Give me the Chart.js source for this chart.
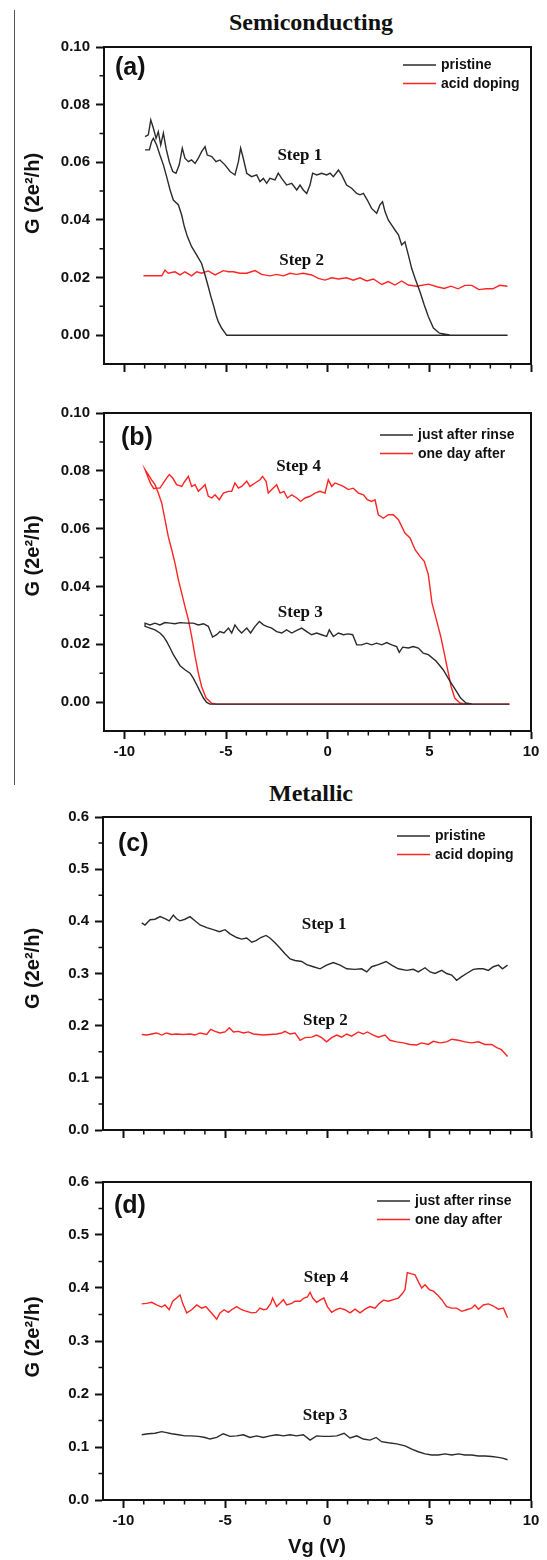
<!DOCTYPE html>
<html>
<head>
<meta charset="utf-8">
<script src="https://cdn.jsdelivr.net/npm/chart.js@4.4.0/dist/chart.umd.min.js"></script>
<style>
  body { margin: 0; background: #fff; }
  #page { position: relative; width: 547px; height: 1560px; overflow: hidden; }
  canvas { position: absolute; left: 0; }
  .title { position: absolute; font: bold 24px 'Liberation Serif', 'Times New Roman', serif; color: #111;
           transform: translate(-50%, -50%); white-space: nowrap; }
  #sep { position: absolute; left: 14px; top: 10px; height: 775px; border-left: 1.5px solid #555; }
</style>
</head>
<body>
<div id="page">
  <div id="sep"></div>
  <div class="title" style="left:311px;top:22px">Semiconducting</div>
  <div class="title" style="left:311px;top:793px">Metallic</div>
  <canvas id="chartA" width="547" height="350" style="top:30px"></canvas>
  <canvas id="chartB" width="547" height="380" style="top:395px"></canvas>
  <canvas id="chartC" width="547" height="345" style="top:800px"></canvas>
  <canvas id="chartD" width="547" height="395" style="top:1165px"></canvas>
</div>
<script>
// axis ticks
const xMajor = [-10, -5, 0, 5, 10];
const xMinor = [-9, -8, -7, -6, -4, -3, -2, -1, 1, 2, 3, 4, 6, 7, 8, 9];
const ySemiMajor = [0, 0.02, 0.04, 0.06, 0.08, 0.10];
const ySemiMinor = [0.01, 0.03, 0.05, 0.07, 0.09];
const yMetMajor = [0, 0.1, 0.2, 0.3, 0.4, 0.5, 0.6];
const yMetMinor = [0.05, 0.15, 0.25, 0.35, 0.45, 0.55];
const yTitle = 'G (2e\u00B2/h)';

// (a) semiconducting, pristine (loop) and acid doping  [Vg, G]
const aPristine = [[-8.98,0.0689],[-8.82,0.0695],[-8.70,0.0747],[-8.57,0.0718],[-8.44,0.0683],[-8.33,0.0706],[-8.21,0.0660],
  [-8.08,0.0701],[-7.95,0.0649],[-7.79,0.0602],[-7.62,0.0568],[-7.46,0.0562],[-7.30,0.0591],[-7.15,0.0649],[-7.02,0.0614],
  [-6.85,0.0602],[-6.69,0.0608],[-6.52,0.0596],[-6.36,0.0614],[-6.20,0.0637],[-6.03,0.0654],[-5.92,0.0625],[-5.70,0.0620],
  [-5.49,0.0602],[-5.30,0.0608],[-5.05,0.0591],[-4.80,0.0568],[-4.56,0.0556],[-4.39,0.0602],[-4.28,0.0649],[-4.15,0.0614],
  [-3.98,0.0562],[-3.74,0.0550],[-3.49,0.0556],[-3.33,0.0533],[-3.16,0.0544],[-3.00,0.0527],[-2.84,0.0544],[-2.59,0.0539],
  [-2.43,0.0562],[-2.26,0.0544],[-2.02,0.0521],[-1.77,0.0527],[-1.52,0.0504],[-1.36,0.0521],[-1.20,0.0504],[-1.03,0.0492],
  [-0.87,0.0521],[-0.74,0.0562],[-0.54,0.0556],[-0.30,0.0562],[-0.05,0.0556],[0.12,0.0562],[0.28,0.0550],[0.53,0.0573],
  [0.69,0.0556],[0.93,0.0521],[1.18,0.0510],[1.43,0.0492],[1.59,0.0487],[1.76,0.0492],[1.95,0.0469],[2.16,0.0440],
  [2.41,0.0423],[2.57,0.0452],[2.70,0.0463],[2.82,0.0429],[2.98,0.0400],[3.15,0.0382],[3.31,0.0365],[3.48,0.0348],
  [3.64,0.0313],[3.80,0.0324],[3.97,0.0278],[4.13,0.0232],[4.30,0.0197],[4.54,0.0151],[4.75,0.0105],[4.95,0.0065],
  [5.20,0.0025],[5.50,0.0007],[6.00,0.0001],[8.85,0],
  [-4.97,0],[-5.05,0.0008],[-5.21,0.0024],[-5.38,0.0047],[-5.49,0.0070],[-5.62,0.0105],[-5.74,0.0133],[-5.87,0.0168],
  [-6.03,0.0209],[-6.20,0.0249],[-6.44,0.0278],[-6.69,0.0307],[-6.90,0.0342],[-7.05,0.0377],[-7.18,0.0417],[-7.34,0.0452],
  [-7.59,0.0469],[-7.75,0.0504],[-7.92,0.0550],[-8.08,0.0591],[-8.25,0.0625],[-8.41,0.0660],[-8.57,0.0683],[-8.66,0.0672],
  [-8.77,0.0643],[-8.98,0.0643]];
const aAcid = [[-9.06,0.0206],[-8.16,0.0206],[-8.00,0.0226],[-7.84,0.0215],[-7.51,0.0220],[-7.26,0.0209],[-7.02,0.0220],
  [-6.69,0.0206],[-6.44,0.0220],[-6.20,0.0215],[-5.87,0.0223],[-5.54,0.0209],[-5.13,0.0224],[-4.88,0.0220],[-4.64,0.0220],
  [-4.31,0.0215],[-3.98,0.0215],[-3.57,0.0224],[-3.25,0.0211],[-2.84,0.0206],[-2.51,0.0211],[-2.18,0.0206],[-1.85,0.0215],
  [-1.52,0.0211],[-1.20,0.0215],[-0.79,0.0209],[-0.46,0.0197],[-0.13,0.0191],[0.20,0.0199],[0.53,0.0195],[0.93,0.0199],
  [1.26,0.0191],[1.59,0.0199],[1.92,0.0188],[2.25,0.0195],[2.66,0.0176],[2.98,0.0186],[3.31,0.0174],[3.64,0.0188],
  [3.97,0.0174],[4.38,0.0170],[4.96,0.0177],[5.38,0.0168],[5.73,0.0162],[6.07,0.0170],[6.41,0.0161],[6.75,0.0173],
  [7.09,0.0173],[7.44,0.0158],[7.78,0.0161],[8.12,0.0161],[8.46,0.0173],[8.84,0.0170]];

// (b) semiconducting, just after rinse and one day after (loops)
const bRinse = [[8.94,-0.0007],[-5.79,-0.0007],[-5.95,-0.0001],[-6.11,0.0014],[-6.28,0.0037],[-6.44,0.0060],[-6.61,0.0083],
  [-6.77,0.0100],[-7.02,0.0112],[-7.26,0.0126],[-7.43,0.0146],[-7.59,0.0164],[-7.75,0.0187],[-7.92,0.0210],[-8.08,0.0227],
  [-8.25,0.0239],[-8.49,0.0250],[-8.74,0.0256],[-8.98,0.0262],[-8.98,0.0273],[-8.74,0.0267],[-8.49,0.0273],[-8.25,0.0267],
  [-8.00,0.0275],[-7.75,0.0273],[-7.51,0.0271],[-7.26,0.0275],[-6.93,0.0273],[-6.61,0.0273],[-6.36,0.0267],[-6.11,0.0271],
  [-5.87,0.0262],[-5.66,0.0225],[-5.46,0.0233],[-5.30,0.0244],[-5.10,0.0239],[-4.88,0.0256],[-4.72,0.0239],[-4.56,0.0267],
  [-4.39,0.0250],[-4.23,0.0239],[-3.98,0.0256],[-3.79,0.0239],[-3.57,0.0262],[-3.36,0.0279],[-3.16,0.0267],[-3.00,0.0262],
  [-2.75,0.0256],[-2.51,0.0244],[-2.26,0.0239],[-2.02,0.0250],[-1.77,0.0239],[-1.52,0.0248],[-1.28,0.0256],[-1.03,0.0244],
  [-0.79,0.0233],[-0.54,0.0239],[-0.30,0.0233],[-0.05,0.0227],[0.08,0.0250],[0.28,0.0227],[0.53,0.0239],[0.77,0.0233],
  [1.02,0.0236],[1.23,0.0233],[1.43,0.0198],[1.67,0.0198],[1.92,0.0204],[2.16,0.0198],[2.41,0.0204],[2.66,0.0198],
  [2.90,0.0206],[3.15,0.0198],[3.39,0.0192],[3.52,0.0172],[3.69,0.0190],[3.97,0.0187],[4.21,0.0192],[4.46,0.0187],
  [4.70,0.0169],[4.95,0.0164],[5.34,0.0141],[5.68,0.0112],[6.02,0.0072],[6.28,0.0043],[6.54,0.0014],[6.80,-0.0003],
  [7.14,-0.0007],[8.94,-0.0007]];
const bDay = [[8.94,-0.0007],[-5.46,-0.0007],[-5.70,-0.0004],[-5.98,0.0014],[-6.20,0.0054],[-6.36,0.0100],[-6.52,0.0158],
  [-6.69,0.0227],[-6.85,0.0285],[-7.02,0.0331],[-7.18,0.0377],[-7.34,0.0423],[-7.51,0.0481],[-7.67,0.0527],[-7.84,0.0573],
  [-8.00,0.0631],[-8.16,0.0688],[-8.33,0.0723],[-8.49,0.0752],[-8.66,0.0769],[-8.82,0.0787],[-8.98,0.0804],[-8.85,0.0780],
  [-8.70,0.0755],[-8.55,0.0738],[-8.41,0.0740],[-8.25,0.0740],[-8.08,0.0758],[-7.92,0.0775],[-7.79,0.0787],[-7.62,0.0775],
  [-7.43,0.0752],[-7.18,0.0746],[-7.02,0.0764],[-6.85,0.0781],[-6.69,0.0746],[-6.52,0.0752],[-6.36,0.0729],[-6.20,0.0740],
  [-6.03,0.0752],[-5.87,0.0712],[-5.70,0.0706],[-5.54,0.0717],[-5.33,0.0700],[-5.13,0.0723],[-4.88,0.0729],[-4.72,0.0729],
  [-4.56,0.0758],[-4.39,0.0740],[-4.23,0.0746],[-3.98,0.0764],[-3.82,0.0746],[-3.57,0.0758],[-3.33,0.0769],[-3.20,0.0781],
  [-3.03,0.0764],[-2.92,0.0723],[-2.75,0.0735],[-2.51,0.0752],[-2.34,0.0723],[-2.15,0.0729],[-1.98,0.0706],[-1.77,0.0717],
  [-1.52,0.0706],[-1.33,0.0694],[-1.11,0.0706],[-0.87,0.0712],[-0.62,0.0723],[-0.38,0.0729],[-0.13,0.0723],[0.03,0.0769],
  [0.20,0.0746],[0.36,0.0758],[0.57,0.0752],[0.77,0.0746],[1.02,0.0735],[1.26,0.0740],[1.51,0.0723],[1.76,0.0717],
  [1.95,0.0700],[2.16,0.0694],[2.33,0.0700],[2.49,0.0648],[2.74,0.0636],[2.98,0.0648],[3.23,0.0648],[3.48,0.0631],
  [3.64,0.0608],[3.80,0.0585],[4.05,0.0568],[4.30,0.0527],[4.54,0.0504],[4.75,0.0487],[4.95,0.0441],[5.13,0.0343],
  [5.39,0.0273],[5.56,0.0227],[5.73,0.0170],[5.90,0.0112],[6.07,0.0054],[6.25,0.0014],[6.50,-0.0003],[6.85,-0.0007],
  [8.94,-0.0007]];

// (c) metallic, pristine and acid doping
const cPristine = [[-9.10,0.397],[-8.94,0.393],[-8.69,0.403],[-8.45,0.404],[-8.20,0.409],[-7.96,0.405],[-7.75,0.401],
  [-7.55,0.412],[-7.39,0.405],[-7.22,0.401],[-6.98,0.404],[-6.73,0.409],[-6.49,0.401],[-6.24,0.393],[-5.91,0.388],
  [-5.59,0.384],[-5.29,0.380],[-5.01,0.384],[-4.77,0.376],[-4.44,0.369],[-4.20,0.366],[-3.95,0.368],[-3.70,0.360],
  [-3.49,0.363],[-3.26,0.369],[-3.00,0.373],[-2.81,0.368],[-2.56,0.359],[-2.32,0.349],[-2.07,0.338],[-1.82,0.328],
  [-1.58,0.325],[-1.25,0.323],[-1.01,0.317],[-0.68,0.313],[-0.35,0.309],[-0.03,0.316],[0.30,0.321],[0.63,0.316],
  [0.96,0.309],[1.36,0.308],[1.69,0.309],[1.94,0.303],[2.18,0.313],[2.51,0.317],[2.89,0.323],[3.16,0.316],[3.49,0.309],
  [3.90,0.306],[4.23,0.308],[4.47,0.303],[4.80,0.311],[5.05,0.303],[5.29,0.300],[5.62,0.306],[5.86,0.300],[6.11,0.297],
  [6.35,0.287],[6.60,0.294],[6.84,0.300],[7.17,0.308],[7.42,0.309],[7.66,0.309],[7.91,0.306],[8.15,0.313],[8.40,0.316],
  [8.60,0.309],[8.85,0.316]];
const cAcid = [[-9.10,0.183],[-8.86,0.182],[-8.61,0.184],[-8.37,0.186],[-8.12,0.182],[-7.88,0.186],[-7.63,0.183],
  [-7.39,0.184],[-7.06,0.183],[-6.73,0.184],[-6.49,0.182],[-6.24,0.186],[-5.91,0.183],[-5.72,0.193],[-5.50,0.189],
  [-5.26,0.186],[-5.01,0.188],[-4.80,0.196],[-4.60,0.188],[-4.36,0.189],[-4.11,0.186],[-3.87,0.188],[-3.62,0.184],
  [-3.38,0.183],[-3.13,0.182],[-2.81,0.183],[-2.48,0.184],[-2.23,0.186],[-2.07,0.189],[-1.82,0.184],[-1.58,0.186],
  [-1.33,0.172],[-1.09,0.177],[-0.76,0.178],[-0.52,0.182],[-0.27,0.177],[-0.03,0.169],[0.22,0.177],[0.47,0.182],
  [0.71,0.178],[0.96,0.184],[1.20,0.180],[1.53,0.188],[1.77,0.184],[1.97,0.188],[2.26,0.182],[2.51,0.178],[2.84,0.182],
  [3.08,0.172],[3.41,0.169],[3.74,0.167],[4.06,0.164],[4.39,0.163],[4.64,0.167],[4.96,0.164],[5.21,0.170],[5.54,0.167],
  [5.86,0.169],[6.11,0.174],[6.44,0.172],[6.76,0.169],[7.09,0.167],[7.42,0.169],[7.74,0.164],[8.07,0.164],[8.32,0.158],
  [8.55,0.154],[8.85,0.141]];

// (d) metallic, just after rinse and one day after
const dRinse = [[-9.10,0.123],[-8.78,0.125],[-8.45,0.126],[-8.12,0.129],[-7.88,0.127],[-7.63,0.125],[-7.30,0.123],
  [-6.98,0.121],[-6.65,0.121],[-6.32,0.120],[-5.99,0.118],[-5.75,0.115],[-5.42,0.118],[-5.10,0.125],[-4.77,0.120],
  [-4.44,0.121],[-4.11,0.123],[-3.79,0.118],[-3.46,0.121],[-3.13,0.118],[-2.81,0.121],[-2.48,0.123],[-2.15,0.121],
  [-1.82,0.123],[-1.50,0.121],[-1.17,0.123],[-0.84,0.113],[-0.52,0.121],[-0.19,0.120],[0.14,0.120],[0.47,0.121],
  [0.83,0.126],[1.12,0.117],[1.45,0.121],[1.77,0.115],[2.10,0.113],[2.40,0.118],[2.67,0.110],[3.00,0.108],[3.41,0.106],
  [3.82,0.102],[4.15,0.096],[4.47,0.091],[4.80,0.087],[5.13,0.085],[5.45,0.085],[5.78,0.087],[6.11,0.085],[6.44,0.087],
  [6.76,0.085],[7.09,0.085],[7.42,0.083],[7.74,0.083],[8.07,0.082],[8.32,0.081],[8.60,0.079],[8.85,0.076]];
const dDay = [[-9.10,0.370],[-8.86,0.371],[-8.61,0.373],[-8.37,0.368],[-8.12,0.364],[-7.96,0.368],[-7.75,0.359],
  [-7.58,0.375],[-7.39,0.381],[-7.22,0.387],[-7.09,0.371],[-6.89,0.353],[-6.65,0.359],[-6.40,0.368],[-6.16,0.362],
  [-5.95,0.365],[-5.75,0.356],[-5.59,0.349],[-5.42,0.341],[-5.26,0.353],[-5.06,0.359],[-4.85,0.354],[-4.69,0.359],
  [-4.44,0.365],[-4.20,0.359],[-3.95,0.356],[-3.70,0.353],[-3.49,0.354],[-3.30,0.362],[-3.13,0.359],[-2.97,0.360],
  [-2.77,0.371],[-2.68,0.381],[-2.48,0.365],[-2.32,0.371],[-2.15,0.378],[-1.99,0.368],[-1.74,0.371],[-1.58,0.375],
  [-1.33,0.375],[-1.14,0.381],[-0.97,0.383],[-0.84,0.392],[-0.71,0.381],[-0.52,0.373],[-0.32,0.378],[-0.16,0.381],
  [0.01,0.365],[0.22,0.354],[0.43,0.359],[0.63,0.362],[0.87,0.359],[1.12,0.353],[1.37,0.360],[1.61,0.353],[1.86,0.360],
  [2.10,0.365],[2.35,0.362],[2.56,0.371],[2.76,0.377],[3.00,0.375],[3.25,0.378],[3.49,0.381],[3.70,0.390],[3.82,0.397],
  [3.93,0.429],[4.10,0.427],[4.31,0.425],[4.47,0.412],[4.64,0.400],[4.80,0.406],[5.01,0.397],[5.21,0.394],[5.41,0.387],
  [5.62,0.378],[5.86,0.365],[6.11,0.362],[6.35,0.362],[6.60,0.356],[6.84,0.359],[7.09,0.362],[7.25,0.368],[7.42,0.360],
  [7.66,0.368],[7.91,0.370],[8.15,0.366],[8.40,0.360],[8.65,0.362],[8.85,0.344]];

const BLACK = '#2b2b2b';
const RED = '#ff2424';
const sansBold = (size) => ({ family: "'Liberation Sans', Arial, sans-serif", size: size, weight: 'bold' });

// frame, minor ticks, y title, legend, panel tag and step labels
const decor = {
  id: 'decor',
  afterDatasetsDraw(chart, args, o) {
    const { ctx, chartArea: a, scales: { x, y } } = chart;
    ctx.save();
    ctx.strokeStyle = '#111';
    ctx.lineWidth = 2;
    ctx.strokeRect(a.left, a.top, a.right - a.left, a.bottom - a.top);

    ctx.lineWidth = 1.5;
    ctx.beginPath();
    o.minorX.forEach(v => {
      const px = x.getPixelForValue(v);
      ctx.moveTo(px, a.bottom); ctx.lineTo(px, a.bottom + 4.5);
    });
    o.minorY.forEach(v => {
      const py = y.getPixelForValue(v);
      ctx.moveTo(a.left, py); ctx.lineTo(a.left - 4.5, py);
    });
    ctx.stroke();

    // rotated y axis title, a little above the middle as in the figure
    ctx.save();
    ctx.translate(33, (a.top + a.bottom) / 2 + o.titleShift);
    ctx.rotate(-Math.PI / 2);
    ctx.textAlign = 'center';
    ctx.textBaseline = 'middle';
    ctx.fillStyle = '#111';
    ctx.font = "bold 20px 'Liberation Sans', Arial, sans-serif";
    ctx.fillText(yTitle, 0, 0);
    ctx.restore();

    ctx.textBaseline = 'middle';
    ctx.textAlign = 'left';
    ctx.font = "bold 14px 'Liberation Sans', Arial, sans-serif";
    chart.data.datasets.forEach((ds, i) => {
      const lx = a.left + o.legend.dx;
      const ly = a.top + o.legend.dy + i * 18.5;
      ctx.strokeStyle = ds.borderColor;
      ctx.lineWidth = 1.6;
      ctx.beginPath(); ctx.moveTo(lx, ly); ctx.lineTo(lx + 33, ly); ctx.stroke();
      ctx.fillStyle = '#111';
      ctx.fillText(ds.label, lx + 38, ly + 0.5);
    });

    ctx.font = "bold 25px 'Liberation Sans', Arial, sans-serif";
    ctx.fillText(o.tag.text, a.left + o.tag.dx, a.top + o.tag.dy);

    ctx.font = "bold 17px 'Liberation Serif', 'Times New Roman', serif";
    ctx.textAlign = 'center';
    o.steps.forEach(s => ctx.fillText(s.text, x.getPixelForValue(s.x), y.getPixelForValue(s.y)));
    ctx.restore();
  }
};

function makePanel(id, p) {
  new Chart(document.getElementById(id), {
    type: 'line',
    data: {
      datasets: p.series.map(s => ({
        label: s.label,
        data: s.points.map(([x, y]) => ({ x, y })),
        borderColor: s.color,
        borderWidth: 1.4,
        pointRadius: 0,
        tension: 0,
        fill: false
      }))
    },
    options: {
      responsive: false,
      animation: false,
      events: [],
      layout: { padding: { top: p.plotTop - p.top, right: 547 - 531, left: 0, bottom: 0 } },
      plugins: {
        legend: { display: false },
        tooltip: { enabled: false },
        decor: { minorX: xMinor, minorY: p.yMinor, legend: p.legend, tag: p.tag, steps: p.steps, titleShift: p.titleShift }
      },
      scales: {
        x: {
          type: 'linear', min: -11, max: 10,
          afterBuildTicks: s => { s.ticks = xMajor.map(v => ({ value: v })); },
          afterFit: s => { s.height = p.top + p.height - p.plotBottom; },
          grid: { drawOnChartArea: false, drawTicks: true, tickLength: 8, tickWidth: 2, tickColor: '#111' },
          border: { display: true, width: 2, color: '#111' },
          ticks: { display: p.xLabels, padding: 4, color: '#111', font: sansBold(15), maxRotation: 0, autoSkip: false },
          title: { display: !!p.xTitle, text: p.xTitle || '', color: '#111', font: sansBold(20), padding: { top: 0, bottom: 1 } }
        },
        y: {
          min: p.yMin, max: p.yMax,
          afterBuildTicks: s => { s.ticks = p.yMajor.map(v => ({ value: v })); },
          afterFit: s => { s.width = p.plotLeft; },
          grid: { drawOnChartArea: false, drawTicks: true, tickLength: 8, tickWidth: 2, tickColor: '#111' },
          border: { display: true, width: 2, color: '#111' },
          ticks: { padding: 6, color: '#111', font: sansBold(15), callback: v => v.toFixed(p.yDigits) },
          title: { display: false }
        }
      }
    },
    plugins: [decor]
  });
}

makePanel('chartA', {
  top: 30, height: 350, plotTop: 47, plotBottom: 364, plotLeft: 104, titleShift: -12,
  yMin: -0.01, yMax: 0.10, yMajor: ySemiMajor, yMinor: ySemiMinor, yDigits: 2, xLabels: false,
  series: [{ label: 'pristine', points: aPristine, color: BLACK }, { label: 'acid doping', points: aAcid, color: RED }],
  legend: { dx: 299, dy: 18 }, tag: { text: '(a)', dx: 11, dy: 21 },
  steps: [{ text: 'Step 1', x: -1.37, y: 0.0624 }, { text: 'Step 2', x: -1.28, y: 0.026 }]
});
makePanel('chartB', {
  top: 395, height: 380, plotTop: 413, plotBottom: 731, plotLeft: 104, titleShift: -16,
  yMin: -0.01, yMax: 0.10, yMajor: ySemiMajor, yMinor: ySemiMinor, yDigits: 2, xLabels: true,
  series: [{ label: 'just after rinse', points: bRinse, color: BLACK }, { label: 'one day after', points: bDay, color: RED }],
  legend: { dx: 276, dy: 22 }, tag: { text: '(b)', dx: 17, dy: 25 },
  steps: [{ text: 'Step 4', x: -1.43, y: 0.0815 }, { text: 'Step 3', x: -1.35, y: 0.031 }]
});
makePanel('chartC', {
  top: 800, height: 345, plotTop: 817, plotBottom: 1133, plotLeft: 103, titleShift: -5,
  yMin: 0, yMax: 0.6, yMajor: yMetMajor, yMinor: yMetMinor, yDigits: 1, xLabels: false,
  series: [{ label: 'pristine', points: cPristine, color: BLACK }, { label: 'acid doping', points: cAcid, color: RED }],
  legend: { dx: 294, dy: 19 }, tag: { text: '(c)', dx: 15, dy: 27 },
  steps: [{ text: 'Step 1', x: -0.15, y: 0.394 }, { text: 'Step 2', x: -0.09, y: 0.21 }]
});
makePanel('chartD', {
  top: 1165, height: 395, plotTop: 1182, plotBottom: 1500, plotLeft: 103, titleShift: -4,
  yMin: 0, yMax: 0.6, yMajor: yMetMajor, yMinor: yMetMinor, yDigits: 1, xLabels: true, xTitle: 'Vg (V)',
  series: [{ label: 'just after rinse', points: dRinse, color: BLACK }, { label: 'one day after', points: dDay, color: RED }],
  legend: { dx: 274, dy: 19 }, tag: { text: '(d)', dx: 11, dy: 24 },
  steps: [{ text: 'Step 4', x: -0.05, y: 0.42 }, { text: 'Step 3', x: -0.1, y: 0.16 }]
});
</script>
</body>
</html>
